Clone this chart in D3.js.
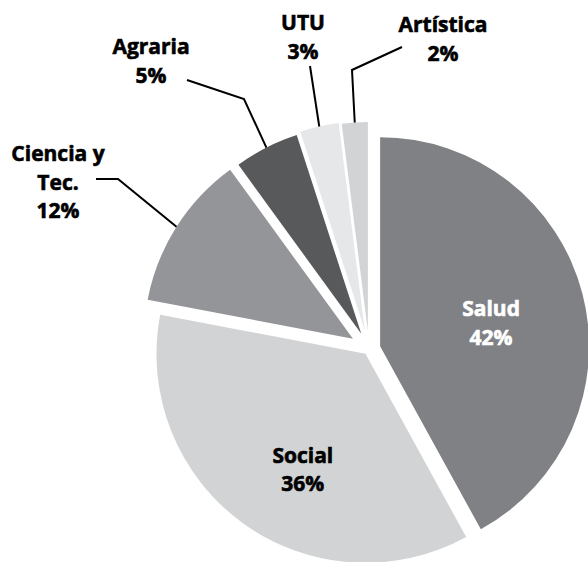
<!DOCTYPE html>
<html>
<head>
<meta charset="utf-8">
<script src="https://cdn.jsdelivr.net/npm/d3@7"></script>
<style>
  html, body { margin: 0; padding: 0; background: #fff; }
  svg { display: block; }
  text { font-family: "Open Sans", Lato, sans-serif; font-weight: 700; font-size: 21px; stroke-width: 0.6px; }
</style>
</head>
<body>
<svg id="chart" width="588" height="562"></svg>
<script>
// ---- data ----
const categories = ["Salud", "Social", "Ciencia y Tec.", "Agraria", "UTU", "Artística"];
const values = [42, 36, 12, 5, 3, 2];
const labelLines = [["Salud", "42%"], ["Social", "36%"], ["Ciencia y", "Tec.", "12%"], ["Agraria", "5%"], ["UTU", "3%"], ["Artística", "2%"]];

// ---- styles / layout ----
const colors = ["#808184", "#d1d3d4", "#939598", "#58595b", "#e6e7e8", "#d1d3d4"];
const textColors = ["#ffffff", "#000000", "#000000", "#000000", "#000000", "#000000"];
const explode = [11.5, 6, 19, 17, 19, 18];
const W = 588, H = 562;
const cx = 369, cy = 349, R = 209;
// inside labels: polar position relative to the exploded slice apex (angle deg, radius)
const insidePolar = { 0: [82, 112], 1: [207, 138] };
// outside labels: text anchor centre x, first baseline y, leader elbow, leader start
const outside = {
  2: { x: 58, y: 161, elbow: [118, 179], start: [96, 179] },
  3: { x: 151, y: 54, elbow: [244, 99], start: [187, 80] },
  4: { x: 303, y: 30, elbow: null, start: [310, 66] },
  5: { x: 443, y: 32, elbow: [352, 70], start: [402, 47] }
};
const lineH = 28.5;

const svg = d3.select("#chart");
const pie = d3.pie().sort(null).value(d => d).startAngle(0).endAngle(2 * Math.PI);
const arcs = pie(values);
const arc = d3.arc().innerRadius(0).outerRadius(R);

const g = svg.append("g").attr("transform", `translate(${cx},${cy})`);

function offsetOf(d, i) {
  const mid = (d.startAngle + d.endAngle) / 2;
  return [Math.sin(mid) * explode[i], -Math.cos(mid) * explode[i]];
}

g.selectAll("path.slice")
  .data(arcs)
  .join("path")
  .attr("class", "slice")
  .attr("d", arc)
  .attr("fill", (d, i) => colors[i])
  .attr("transform", (d, i) => { const o = offsetOf(d, i); return `translate(${o[0]},${o[1]})`; });

// inside labels
Object.keys(insidePolar).forEach(k => {
  const i = +k, d = arcs[i];
  const o = offsetOf(d, i);
  const a = insidePolar[k][0] * Math.PI / 180, r = insidePolar[k][1];
  const x = cx + o[0] + Math.sin(a) * r;
  const y = cy + o[1] - Math.cos(a) * r;
  const n = labelLines[i].length;
  const t = svg.append("text").attr("text-anchor", "middle")
    .attr("fill", textColors[i]).attr("stroke", textColors[i]);
  labelLines[i].forEach((s, j) => {
    t.append("tspan").attr("x", x).attr("y", y + (j - (n - 1) / 2) * lineH).text(s);
  });
});

// outside labels with leader lines
Object.keys(outside).forEach(k => {
  const i = +k, d = arcs[i], cfg = outside[k];
  const o = offsetOf(d, i);
  const mid = (d.startAngle + d.endAngle) / 2;
  const rim = [cx + o[0] + Math.sin(mid) * R, cy + o[1] - Math.cos(mid) * R];
  const pts = [cfg.start];
  if (cfg.elbow) pts.push(cfg.elbow);
  pts.push(rim);
  svg.append("path")
    .attr("d", d3.line()(pts))
    .attr("fill", "none")
    .attr("stroke", "#000")
    .attr("stroke-width", 2);
  const t = svg.append("text").attr("text-anchor", "middle")
    .attr("fill", textColors[i]).attr("stroke", textColors[i]);
  labelLines[i].forEach((s, j) => {
    t.append("tspan").attr("x", cfg.x).attr("y", cfg.y + j * lineH).text(s);
  });
});
</script>
</body>
</html>
